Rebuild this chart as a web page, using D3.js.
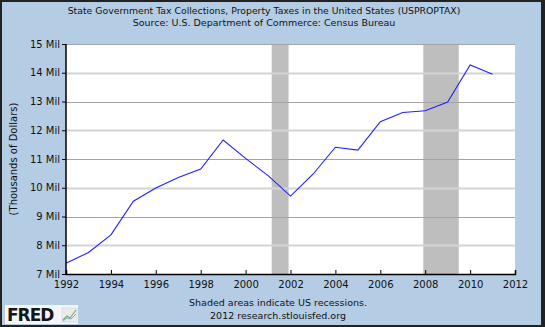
<!DOCTYPE html>
<html>
<head>
<meta charset="utf-8">
<script src="https://cdn.jsdelivr.net/npm/d3@7"></script>
<style>
  body { margin: 0; padding: 0; }
  svg { display: block; font-family: "DejaVu Sans", Verdana, sans-serif; }
</style>
</head>
<body>
<svg id="chart" width="545" height="327"></svg>
<script>
var width = 545;
var height = 327;
var margin = {"top": 44, "right": 30, "bottom": 53, "left": 66};

// data
var years = [1992, 1993, 1994, 1995, 1996, 1997, 1998, 1999, 2000, 2001,
             2002, 2003, 2004, 2005, 2006, 2007, 2008, 2009, 2010, 2011];
var values = [7.37, 7.75, 8.36, 9.53, 9.99, 10.36, 10.65, 11.66, 11.02, 10.42,
              9.71, 10.47, 11.41, 11.31, 12.30, 12.62, 12.68, 12.98, 14.27, 13.95];
var recessions = [["2001-03-01", "2001-11-30"], ["2007-12-01", "2009-06-30"]];
var yTicks = [7, 8, 9, 10, 11, 12, 13, 14, 15];
var xTicks = [1992, 1994, 1996, 1998, 2000, 2002, 2004, 2006, 2008, 2010, 2012];

var parse = d3.timeParse("%Y-%m-%d");
var data = years.map(function(y, i) { return [new Date(y, 0, 1), values[i]]; });

// scales
var xScale = d3.scaleTime()
  .domain([new Date(1992, 0, 1), new Date(2012, 0, 1)])
  .range([margin.left, width - margin.right]);
var yScale = d3.scaleLinear()
  .domain([7, 15])
  .range([height - margin.bottom, margin.top]);

var svg = d3.select('#chart');

// background and frame
svg.append('rect')
  .attr('x', 1).attr('y', 1)
  .attr('width', width - 2).attr('height', height - 2)
  .attr('fill', '#b4cde5')
  .attr('stroke', '#222').attr('stroke-width', 2);
svg.append('line')
  .attr('x1', width - 3).attr('x2', width - 3)
  .attr('y1', 0).attr('y2', height)
  .attr('stroke', '#222').attr('stroke-width', 2);

// plot area
svg.append('rect')
  .attr('x', margin.left).attr('y', margin.top)
  .attr('width', width - margin.right - margin.left)
  .attr('height', height - margin.bottom - margin.top)
  .attr('fill', '#fff');

// recessions
svg.selectAll('rect.rec')
  .data(recessions)
  .enter().append('rect')
  .attr('class', 'rec')
  .attr('x', function(d) { return xScale(parse(d[0])); })
  .attr('y', margin.top)
  .attr('width', function(d) { return xScale(parse(d[1])) - xScale(parse(d[0])); })
  .attr('height', height - margin.bottom - margin.top)
  .attr('fill', '#bebebe');

// grid lines
svg.selectAll('line.grid')
  .data(yTicks.slice(1))
  .enter().append('line')
  .attr('class', 'grid')
  .attr('x1', margin.left).attr('x2', width - margin.right)
  .attr('y1', function(d) { return Math.round(yScale(d)) + 0.5; })
  .attr('y2', function(d) { return Math.round(yScale(d)) + 0.5; })
  .attr('stroke', function(d) { return (d % 2 === 0 && d !== 15) ? '#d4d4d4' : '#a4a4a4'; })
  .attr('stroke-width', function(d) { return (d % 2 === 0 && d !== 15) ? 2 : 1; });

// series line
var line = d3.line()
  .x(function(d) { return xScale(d[0]); })
  .y(function(d) { return yScale(d[1]); });
svg.append('path')
  .datum(data)
  .attr('d', line)
  .attr('fill', 'none')
  .attr('stroke', '#2020ff')
  .attr('stroke-width', 1.1);

// axes
var yAxis = d3.axisLeft(yScale)
  .tickValues(yTicks)
  .tickSize(4)
  .tickPadding(2)
  .tickFormat(function(d) { return d + ' Mil'; });
var gy = svg.append('g')
  .attr('transform', 'translate(' + [margin.left, 0] + ')')
  .call(yAxis);

var xAxis = d3.axisBottom(xScale)
  .tickValues(xTicks.map(function(y) { return new Date(y, 0, 1); }))
  .tickSize(-4)
  .tickPadding(8)
  .tickFormat(d3.timeFormat('%Y'));
var gx = svg.append('g')
  .attr('transform', 'translate(' + [0, height - margin.bottom] + ')')
  .call(xAxis);

[gx, gy].forEach(function(g) {
  g.select('.domain').attr('stroke', '#000').attr('stroke-width', 1.5);
  g.selectAll('.tick line').attr('stroke', '#000');
  g.selectAll('.tick text').attr('fill', '#111').style('font-size', '10px')
    .style('font-family', '"DejaVu Sans", Verdana, sans-serif');
});
gy.select('.domain').attr('d', 'M' + margin.left + ',' + margin.top + 'V' + (height - margin.bottom)).attr('transform', 'translate(' + (-margin.left) + ',0)');
gx.selectAll('.tick text').attr('dy', '0.6em');

// titles
svg.append('text')
  .attr('x', 264).attr('y', 14)
  .attr('text-anchor', 'middle')
  .style('font-size', '9.3px').attr('fill', '#111')
  .text('State Government Tax Collections, Property Taxes in the United States (USPROPTAX)');
svg.append('text')
  .attr('x', 264).attr('y', 26)
  .attr('text-anchor', 'middle')
  .style('font-size', '9.5px').attr('fill', '#111')
  .text('Source: U.S. Department of Commerce: Census Bureau');

svg.append('text')
  .attr('transform', 'translate(17,' + ((margin.top + height - margin.bottom) / 2) + ') rotate(-90)')
  .attr('text-anchor', 'middle')
  .style('font-size', '10px').attr('fill', '#111')
  .text('(Thousands of Dollars)');

svg.append('text')
  .attr('x', 278).attr('y', 306)
  .attr('text-anchor', 'middle')
  .style('font-size', '9.5px').attr('fill', '#111')
  .text('Shaded areas indicate US recessions.');
svg.append('text')
  .attr('x', 278).attr('y', 319)
  .attr('text-anchor', 'middle')
  .style('font-size', '9.5px').attr('fill', '#111')
  .text('2012 research.stlouisfed.org');

// FRED logo
var logo = svg.append('g').attr('transform', 'translate(5,305)');
logo.append('rect').attr('width', 73).attr('height', 19).attr('fill', '#f4f6f8');
logo.append('text')
  .attr('x', 2).attr('y', 16)
  .style('font-family', '"DejaVu Sans", sans-serif')
  .style('font-weight', 'bold').style('font-size', '17px')
  .style('letter-spacing', '-1px')
  .attr('fill', '#161616')
  .text('FRED');
logo.append('rect').attr('x', 57).attr('y', 3).attr('width', 15).attr('height', 14)
  .attr('fill', '#e8ecef').attr('stroke', '#c8ccd0').attr('stroke-width', 0.5);
logo.append('path').attr('d', 'M58,15 L62,11 L65,13 L71,5')
  .attr('fill', 'none').attr('stroke', '#7ab06a').attr('stroke-width', 1.2);
logo.append('path').attr('d', 'M58,16 L62,13 L66,14 L71,9')
  .attr('fill', 'none').attr('stroke', '#6a9ad0').attr('stroke-width', 0.8);
</script>
</body>
</html>
